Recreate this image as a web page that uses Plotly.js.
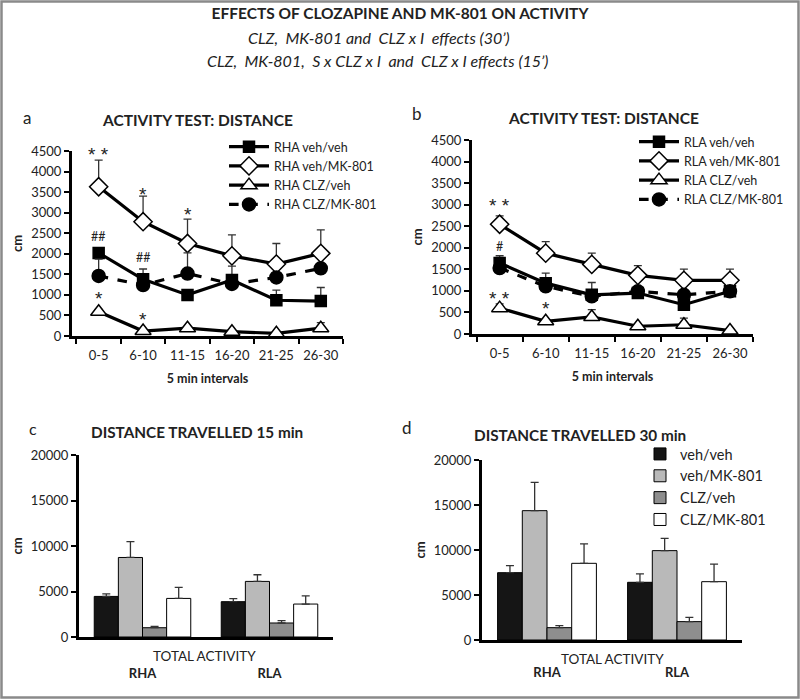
<!DOCTYPE html>
<html>
<head>
<meta charset="utf-8">
<script src="https://cdn.plot.ly/plotly-3.0.1.min.js"></script>
<style>html,body{margin:0;padding:0;background:#fff;}#chart{width:800px;height:700px;}</style>
</head>
<body>
<div id="chart"></div>
<script>
// ---------- DATA ----------
const intervals = ['0-5', '6-10', '11-15', '16-20', '21-25', '26-30'];

// Panel a (RHA)
const rhaVehVeh      = [2020, 1380, 1000, 1360, 870, 850];
const rhaVehVehErr   = [60, 250, 80, 340, 245, 330];
const rhaVehMK       = [3630, 2780, 2250, 1950, 1750, 2010];
const rhaVehMKErr    = [650, 620, 595, 510, 500, 570];
const rhaClzVeh      = [590, 120, 190, 105, 65, 190];
const rhaClzVehErr   = [60, 30, 40, 30, 20, 135];
const rhaClzMK       = [1460, 1240, 1520, 1265, 1425, 1645];
const rhaClzMKErr    = [410, 100, 500, 100, 0, 0];

// Panel b (RLA)
const rlaVehVeh      = [1645, 1180, 910, 950, 680, 990];
const rlaVehVehErr   = [170, 230, 285, 0, 0, 0];
const rlaVehMK       = [2545, 1875, 1615, 1360, 1245, 1245];
const rlaVehMKErr    = [195, 270, 260, 225, 260, 260];
const rlaClzVeh      = [600, 295, 395, 180, 215, 80];
const rlaClzVehErr   = [100, 30, 170, 30, 155, 30];
const rlaClzMK       = [1530, 1105, 875, 990, 910, 990];
const rlaClzMKErr    = [0, 0, 0, 0, 0, 0];

const noMinus6 = [0, 0, 0, 0, 0, 0];

// Panels c, d
const lines = ['RHA', 'RLA'];
const treatments = ['veh/veh', 'veh/MK-801', 'CLZ/veh', 'CLZ/MK-801'];
const d15VehVeh = [4460, 3880];   const d15VehVehErr = [290, 330];
const d15VehMK  = [8740, 6110];   const d15VehMKErr  = [1750, 730];
const d15ClzVeh = [1020, 1540];   const d15ClzVehErr = [150, 250];
const d15ClzMK  = [4240, 3620];   const d15ClzMKErr  = [1210, 910];
const d30VehVeh = [7480, 6410];   const d30VehVehErr = [780, 930];
const d30VehMK  = [14370, 9930];  const d30VehMKErr  = [3150, 1370];
const d30ClzVeh = [1370, 2040];   const d30ClzVehErr = [220, 480];
const d30ClzMK  = [8520, 6480];   const d30ClzMKErr  = [2150, 1960];
const noMinus2 = [0, 0];

// ---------- STYLE ----------
const FONT = 'Lato, "Open Sans", sans-serif';
const STARFONT = '"Liberation Sans", Arial, sans-serif';
const TXT = '#222';
const errStyle = (arr, minus) => ({type: 'data', symmetric: false, array: arr, arrayminus: minus,
  thickness: 1.3, width: 4, color: '#333'});

const lineSeries = [
  {suffix: 'veh/veh', symbol: 'square', fill: '#000', size: 11, dash: 'solid'},
  {suffix: 'veh/MK-801', symbol: 'diamond', fill: '#fff', size: 14, dash: 'solid'},
  {suffix: 'CLZ/veh', symbol: 'triangle-up', fill: '#fff', size: 14, dash: 'solid'},
  {suffix: 'CLZ/MK-801', symbol: 'circle', fill: '#000', size: 13, dash: 'dash'}
];

function lineTrace(prefix, idx, yvals, err, xa, ya, legend) {
  const s = lineSeries[idx];
  return {
    type: 'scatter', mode: 'lines+markers', x: intervals, y: yvals,
    name: prefix + ' ' + s.suffix, xaxis: xa, yaxis: ya, legend: legend,
    line: {color: '#000', width: 3.2, dash: s.dash},
    marker: {symbol: s.symbol, size: s.size, color: s.fill, line: {color: '#000', width: 1.5}},
    error_y: errStyle(err, noMinus6)
  };
}

const barColors = ['#151515', '#b9b9b9', '#8e8e8e', '#ffffff'];
function barTrace(idx, yvals, err, xa, ya, show) {
  return {
    type: 'bar', x: lines, y: yvals, name: treatments[idx], xaxis: xa, yaxis: ya,
    legend: 'legend3', showlegend: show,
    marker: {color: barColors[idx], line: {color: '#000', width: 1}},
    error_y: errStyle(err, noMinus2)
  };
}

const data = [
  lineTrace('RHA', 0, rhaVehVeh, rhaVehVehErr, 'x', 'y', 'legend'),
  lineTrace('RHA', 1, rhaVehMK, rhaVehMKErr, 'x', 'y', 'legend'),
  lineTrace('RHA', 2, rhaClzVeh, rhaClzVehErr, 'x', 'y', 'legend'),
  lineTrace('RHA', 3, rhaClzMK, rhaClzMKErr, 'x', 'y', 'legend'),
  lineTrace('RLA', 0, rlaVehVeh, rlaVehVehErr, 'x2', 'y2', 'legend2'),
  lineTrace('RLA', 1, rlaVehMK, rlaVehMKErr, 'x2', 'y2', 'legend2'),
  lineTrace('RLA', 2, rlaClzVeh, rlaClzVehErr, 'x2', 'y2', 'legend2'),
  lineTrace('RLA', 3, rlaClzMK, rlaClzMKErr, 'x2', 'y2', 'legend2'),
  barTrace(0, d15VehVeh, d15VehVehErr, 'x3', 'y3', false),
  barTrace(1, d15VehMK, d15VehMKErr, 'x3', 'y3', false),
  barTrace(2, d15ClzVeh, d15ClzVehErr, 'x3', 'y3', false),
  barTrace(3, d15ClzMK, d15ClzMKErr, 'x3', 'y3', false),
  barTrace(0, d30VehVeh, d30VehVehErr, 'x4', 'y4', true),
  barTrace(1, d30VehMK, d30VehMKErr, 'x4', 'y4', true),
  barTrace(2, d30ClzVeh, d30ClzVehErr, 'x4', 'y4', true),
  barTrace(3, d30ClzMK, d30ClzMKErr, 'x4', 'y4', true)
];

const px = v => v / 800;
const py = v => 1 - v / 700;

function catX(dom, anchor) {
  return {domain: dom, anchor: anchor, type: 'category', range: [-0.6, 5.5],
    showline: true, linecolor: '#000', linewidth: 3, showgrid: false, zeroline: false,
    ticks: 'outside', tickson: 'boundaries', ticklen: 5, tickwidth: 2, tickcolor: '#000',
    tickangle: 0, ticklabelstandoff: 5,
    tickfont: {family: FONT, size: 13, color: TXT},
    title: {text: '<b>5 min intervals</b>', font: {family: FONT, size: 12.5, color: TXT}, standoff: 13},
    fixedrange: true, automargin: false};
}
function linY(dom, anchor, rng, dt) {
  return {domain: dom, anchor: anchor, range: rng, dtick: dt, tickformat: 'd',
    showline: true, linecolor: '#000', linewidth: 3, showgrid: false, zeroline: false,
    ticks: 'outside', ticklen: 5, tickwidth: 2, tickcolor: '#000',
    tickfont: {family: FONT, size: 13, color: TXT},
    title: {text: '<b>cm</b>', font: {family: FONT, size: 13, color: TXT}, standoff: 6},
    fixedrange: true, automargin: false};
}
function barX(dom, anchor, standoff) {
  return {domain: dom, anchor: anchor, type: 'category',
    showline: true, linecolor: '#000', linewidth: 3, showgrid: false, zeroline: false,
    ticks: '', ticklabelstandoff: standoff,
    tickfont: {family: FONT, size: 13, color: TXT, weight: 'bold'},
    fixedrange: true, automargin: false};
}

const ann = (text, x, y, xref, yref, size, extra) => Object.assign({
  text: text, x: x, y: y, xref: xref, yref: yref, showarrow: false,
  font: {family: FONT, size: size, color: TXT}, xanchor: 'center', yanchor: 'middle'}, extra || {});
const star = (text, x, y, xref, yref) => ann(text, x, y, xref, yref, 19,
  {font: {family: STARFONT, size: 19, color: '#222222'}});

const annotations = [
  // main subtitles
  ann('<i>CLZ,  MK-801 and  CLZ x I  effects (30’)</i>', px(379), py(38), 'paper', 'paper', 16),
  ann('<i>CLZ,  MK-801,  S x CLZ x I  and  CLZ x I effects (15’)</i>', px(378), py(60), 'paper', 'paper', 16),
  // panel letters
  ann('a', px(27), py(117), 'paper', 'paper', 17),
  ann('b', px(417), py(113), 'paper', 'paper', 17),
  ann('c', px(33), py(428), 'paper', 'paper', 16),
  ann('d', px(407), py(427), 'paper', 'paper', 17),
  // panel titles
  ann('<b>ACTIVITY TEST: DISTANCE</b>', px(197), py(120), 'paper', 'paper', 15.5),
  ann('<b>ACTIVITY TEST: DISTANCE</b>', px(603), py(118), 'paper', 'paper', 15.5),
  ann('<b>DISTANCE TRAVELLED 15 min</b>', px(197), py(432), 'paper', 'paper', 15.3),
  ann('<b>DISTANCE TRAVELLED 30 min</b>', px(580), py(435), 'paper', 'paper', 15.3),
  // bar x labels
  ann('TOTAL ACTIVITY', px(205), py(656), 'paper', 'paper', 13.5),
  ann('TOTAL ACTIVITY', px(612), py(659), 'paper', 'paper', 13.5),
  // significance marks panel a
  star('* *', '0-5', 4420, 'x', 'y'),
  star('*', '6-10', 3440, 'x', 'y'),
  star('*', '11-15', 2960, 'x', 'y'),
  ann('##', '0-5', 2420, 'x', 'y', 12.5),
  ann('##', '6-10', 1910, 'x', 'y', 12.5),
  star('*', '0-5', 920, 'x', 'y'),
  star('*', '6-10', 410, 'x', 'y'),
  // panel b
  star('* *', '0-5', 2980, 'x2', 'y2'),
  ann('#', '0-5', 2020, 'x2', 'y2', 12.5),
  star('* *', '0-5', 830, 'x2', 'y2'),
  star('*', '6-10', 600, 'x2', 'y2')
];

const layout = {
  width: 800, height: 700,
  margin: {l: 0, r: 0, t: 0, b: 0},
  paper_bgcolor: '#fff', plot_bgcolor: 'rgba(0,0,0,0)',
  font: {family: FONT, color: TXT},
  title: {text: '<b>EFFECTS OF CLOZAPINE AND MK-801 ON ACTIVITY</b>', x: 0.5, xanchor: 'center',
    y: py(14), yanchor: 'middle', font: {family: FONT, size: 15.5, color: TXT}},
  barmode: 'group', bargap: 0.24, bargroupgap: 0,
  xaxis: catX([px(72), px(343)], 'y'),
  yaxis: linY([py(336), py(151)], 'x', [0, 4500], 500),
  xaxis2: catX([px(472), px(753)], 'y2'),
  yaxis2: linY([py(334), py(140)], 'x2', [0, 4500], 500),
  xaxis3: barX([px(79), px(333)], 'y3', 22),
  yaxis3: linY([py(637), py(455)], 'x3', [0, 20000], 5000),
  xaxis4: barX([px(482), px(742)], 'y4', 18),
  yaxis4: linY([py(640), py(460)], 'x4', [0, 20000], 5000),
  legend: {x: px(224), y: py(132), xanchor: 'left', yanchor: 'top', bgcolor: 'rgba(0,0,0,0)',
    font: {family: FONT, size: 12.5, color: TXT}, tracegroupgap: 0, itemwidth: 40},
  legend2: {x: px(634), y: py(127), xanchor: 'left', yanchor: 'top', bgcolor: 'rgba(0,0,0,0)',
    font: {family: FONT, size: 12.5, color: TXT}, tracegroupgap: 0, itemwidth: 40},
  legend3: {x: px(640), y: py(438), xanchor: 'left', yanchor: 'top', bgcolor: 'rgba(0,0,0,0)',
    font: {family: FONT, size: 14.5, color: TXT}, tracegroupgap: 0, itemwidth: 30},
  annotations: annotations,
  shapes: [
    {type: 'rect', xref: 'paper', yref: 'paper', x0: px(1.5), x1: px(798.5), y0: py(697.5), y1: py(1.5),
     line: {color: '#8a8a8a', width: 2.5}}
  ]
};

Plotly.newPlot('chart', data, layout, {displayModeBar: false, staticPlot: true});
</script>
</body>
</html>
